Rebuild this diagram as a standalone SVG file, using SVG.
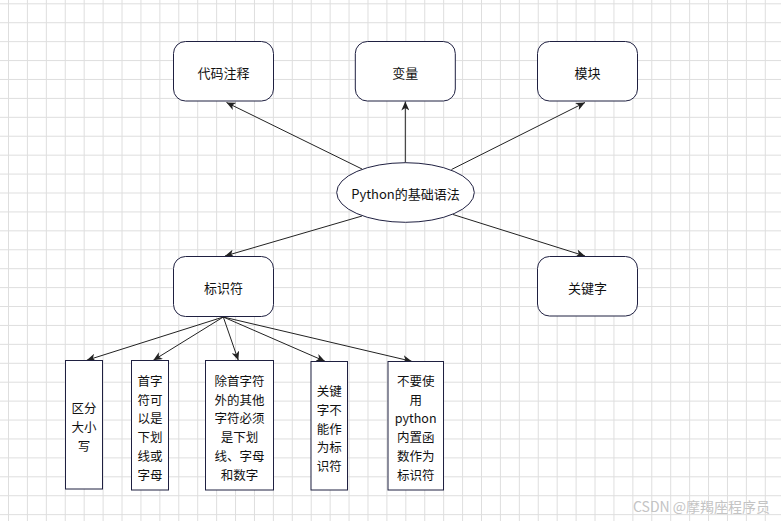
<svg xmlns="http://www.w3.org/2000/svg" width="781" height="521" viewBox="0 0 781 521">
  <defs>
    <pattern id="grid" patternUnits="userSpaceOnUse" x="8" y="3.3" width="18.92" height="18.92">
      <path d="M0.5 0 V18.92 M0 0.5 H18.92" fill="none" stroke="#dedede" stroke-width="1"/>
    </pattern>
    <marker id="arr" markerUnits="userSpaceOnUse" markerWidth="10" markerHeight="8" refX="9" refY="4" orient="auto">
      <path d="M0,0 L9,4 L0,8 L2.5,4 Z" fill="#222"/>
    </marker>
    <style>
      .node { fill: #ffffff; stroke: #1f2041; stroke-width: 1; }
      .t { font-family: "Noto Sans CJK SC", "Liberation Sans", sans-serif; font-size: 13px; fill: #111; text-anchor: middle; dominant-baseline: central; }
      .s { font-family: "Noto Sans CJK SC", "Liberation Sans", sans-serif; font-size: 12.5px; fill: #111; text-anchor: middle; dominant-baseline: central; }
      .edge { stroke: #222; stroke-width: 1; fill: none; marker-end: url(#arr); }
      .wm { font-family: "Noto Sans CJK SC", "Liberation Sans", sans-serif; font-size: 14px; fill: #c4c4c4; }
    </style>
  </defs>
  <rect x="0" y="0" width="781" height="521" fill="#ffffff"/>
  <rect x="0" y="0" width="781" height="521" fill="url(#grid)"/>

  <g id="connectors">
    <line class="edge" x1="362" y1="169" x2="226.5" y2="102.5"/>
    <line class="edge" x1="405.3" y1="162.7" x2="405.3" y2="101.5"/>
    <line class="edge" x1="451.5" y1="169.5" x2="585" y2="102.5"/>
    <line class="edge" x1="362" y1="216" x2="225" y2="256"/>
    <line class="edge" x1="453" y1="214.5" x2="585" y2="256"/>
    <line class="edge" x1="223.3" y1="317" x2="86.7" y2="360.3"/>
    <line class="edge" x1="223.3" y1="317" x2="153.3" y2="360.3"/>
    <line class="edge" x1="223.3" y1="317" x2="238.3" y2="360.3"/>
    <line class="edge" x1="223.3" y1="317" x2="325" y2="361.3"/>
    <line class="edge" x1="223.3" y1="317" x2="411.7" y2="361.3"/>
  </g>

  <g id="node-comment">
    <rect class="node" x="173.5" y="41.5" width="100" height="59.5" rx="12" ry="12"/>
    <text class="t" x="223.5" y="72">代码注释</text>
  </g>
  <g id="node-variable">
    <rect class="node" x="355.3" y="41.5" width="100" height="59.5" rx="12" ry="12"/>
    <text class="t" x="405.3" y="72">变量</text>
  </g>
  <g id="node-module">
    <rect class="node" x="537.5" y="41.5" width="100" height="59.5" rx="12" ry="12"/>
    <text class="t" x="587.5" y="72">模块</text>
  </g>
  <g id="node-root">
    <ellipse class="node" cx="405.5" cy="192.5" rx="68.8" ry="29.8"/>
    <text class="t" x="405.5" y="193">Python的基础语法</text>
  </g>
  <g id="node-identifier">
    <rect class="node" x="173.5" y="256.5" width="100" height="60" rx="12" ry="12"/>
    <text class="t" x="223.5" y="287">标识符</text>
  </g>
  <g id="node-keyword">
    <rect class="node" x="537.5" y="256.5" width="100" height="59.5" rx="12" ry="12"/>
    <text class="t" x="587.5" y="287">关键字</text>
  </g>

  <g id="rule-case">
    <rect class="node" x="65.5" y="360.5" width="37" height="128.5"/>
    <text class="s" x="84" y="407.7">区分</text>
    <text class="s" x="84" y="426.7">大小</text>
    <text class="s" x="84" y="445.7">写</text>
  </g>
  <g id="rule-first">
    <rect class="node" x="131.5" y="360.5" width="37" height="129.5"/>
    <text class="s" x="150" y="380">首字</text>
    <text class="s" x="150" y="399">符可</text>
    <text class="s" x="150" y="417.7">以是</text>
    <text class="s" x="150" y="436.7">下划</text>
    <text class="s" x="150" y="455.7">线或</text>
    <text class="s" x="150" y="474.3">字母</text>
  </g>
  <g id="rule-other">
    <rect class="node" x="205.5" y="360.5" width="68" height="129.5"/>
    <text class="s" x="239.5" y="380">除首字符</text>
    <text class="s" x="239.5" y="399">外的其他</text>
    <text class="s" x="239.5" y="417.7">字符必须</text>
    <text class="s" x="239.5" y="436.7">是下划</text>
    <text class="s" x="239.5" y="455.7">线、字母</text>
    <text class="s" x="239.5" y="474.3">和数字</text>
  </g>
  <g id="rule-keyword">
    <rect class="node" x="311" y="361.5" width="36.5" height="128.5"/>
    <text class="s" x="329.2" y="390">关键</text>
    <text class="s" x="329.2" y="409">字不</text>
    <text class="s" x="329.2" y="428">能作</text>
    <text class="s" x="329.2" y="446.7">为标</text>
    <text class="s" x="329.2" y="465.7">识符</text>
  </g>
  <g id="rule-builtin">
    <rect class="node" x="388" y="361.5" width="55.5" height="128.5"/>
    <text class="s" x="415.7" y="380">不要使</text>
    <text class="s" x="415.7" y="399">用</text>
    <text class="s" x="415.7" y="417.7">python</text>
    <text class="s" x="415.7" y="436.7">内置函</text>
    <text class="s" x="415.7" y="455.7">数作为</text>
    <text class="s" x="415.7" y="474.3">标识符</text>
  </g>

  <text class="wm" x="633" y="511.5">CSDN @摩羯座程序员</text>
</svg>
